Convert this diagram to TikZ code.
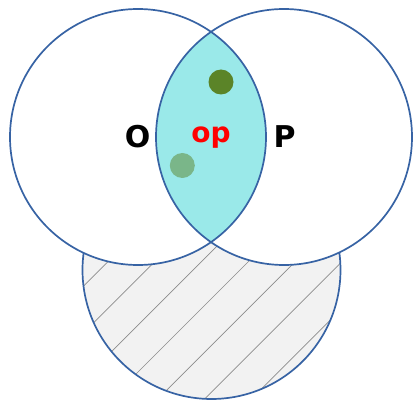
\documentclass[tikz,border=0pt]{standalone}
\usepackage{fontspec}
\setmainfont{DejaVu Sans}
\definecolor{VNblue}{HTML}{3763A4}
\definecolor{VNcyan}{HTML}{9AE9E9}
\definecolor{VNgrey}{HTML}{F2F2F2}
\definecolor{VNdark}{HTML}{5B8428}
\definecolor{VNlight}{HTML}{7AB689}
\tikzset{
  rim/.style={draw=VNblue,line width=1.7pt},
  dot/.style={circle,inner sep=0pt,minimum size=25pt},
  lbl/.style={font=\fontsize{30}{32}\selectfont\bfseries,anchor=base,inner sep=0pt}
}

\begin{document}
\begin{tikzpicture}[x=1pt,y=-1pt]
  \useasboundingbox (0,0) rectangle (413,401);
  \coordinate (cO) at (138,137);
  \coordinate (cP) at (284,137);
  \coordinate (cS) at (211.5,270);
  % lower set, hatched
  \fill[VNgrey] (cS) circle[radius=129pt];
  \begin{scope}
    \clip (cS) circle[radius=129pt];
    \foreach \c in {322.8,369.6,416.4,463.2,510,556.8,603.6,650.4}
      \draw[black!45,line width=0.7pt] (\c-400,400) -- (\c,0);
  \end{scope}
  \draw[rim] (cS) circle[radius=129pt];
  % the two sets
  \fill[white] (cO) circle[radius=128pt];
  \fill[white] (cP) circle[radius=128pt];
  \begin{scope}
    \clip (cO) circle[radius=128pt];
    \fill[VNcyan] (cP) circle[radius=128pt];
  \end{scope}
  \draw[rim] (cO) circle[radius=128pt];
  \draw[rim] (cP) circle[radius=128pt];
  \node[dot,fill=VNdark] (d1) at (221,82) {};
  \node[dot,fill=VNlight] (d2) at (182.3,165.5) {};
  \node[lbl] (O) at (137.7,147.5) {O};
  \node[lbl,text=red,font=\fontsize{28}{30}\selectfont\bfseries] (op) at (211,143) {op};
  \node[lbl] (P) at (284.5,147.5) {P};
\end{tikzpicture}
\end{document}
